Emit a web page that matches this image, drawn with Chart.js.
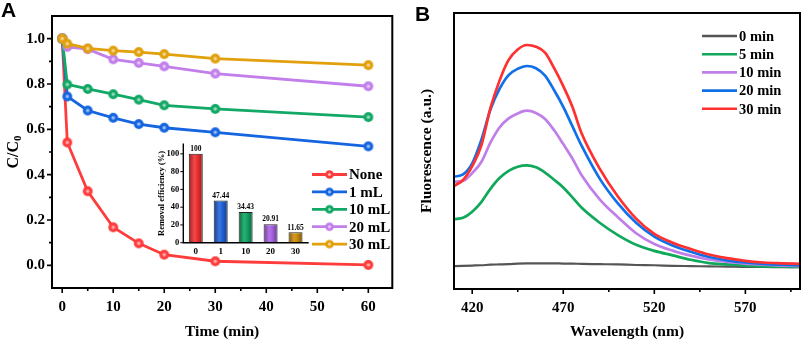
<!DOCTYPE html>
<html><head><meta charset="utf-8">
<script src="https://cdn.jsdelivr.net/npm/chart.js@4.4.1/dist/chart.umd.min.js"></script>
<style>
html,body{margin:0;padding:0;background:#fff;}
#wrap{position:relative;width:803px;height:343px;overflow:hidden;background:#fff;}
canvas{position:absolute;}
#cA{left:0;top:0;width:400px;height:343px;}
#cIn{left:150px;top:135px;width:170px;height:130px;}
#cB{left:400px;top:0;width:403px;height:343px;}
.lbl{position:absolute;font:bold 21px "Liberation Sans",Arial,sans-serif;line-height:21px;}
</style></head><body>
<div id="wrap">
<canvas id="cA" width="400" height="343"></canvas>
<canvas id="cB" width="403" height="343"></canvas>
<canvas id="cIn" width="170" height="130"></canvas>
<div class="lbl" style="left:1px;top:-1px">A</div>
<div class="lbl" style="left:415px;top:3px">B</div>
</div>
<script>
// ---------- Data: panel A ----------
const timeMin = [0, 1, 5, 10, 15, 20, 30, 60];
const seriesNone = [1.0, 0.542, 0.327, 0.168, 0.097, 0.047, 0.018, 0.002];
const series1mL  = [1.0, 0.745, 0.683, 0.651, 0.623, 0.607, 0.587, 0.525];
const series10mL = [1.0, 0.798, 0.778, 0.755, 0.731, 0.706, 0.690, 0.654];
const series20mL = [1.0, 0.964, 0.954, 0.909, 0.893, 0.878, 0.846, 0.790];
const series30mL = [1.0, 0.978, 0.957, 0.947, 0.941, 0.932, 0.912, 0.883];
const legendA = ['None', '1 mL', '10 mL', '20 mL', '30 mL'];
const yTicksA = [0.0, 0.2, 0.4, 0.6, 0.8, 1.0];
const xTicksA = [0, 10, 20, 30, 40, 50, 60];

// ---------- Data: inset ----------
const insetCats = ['0', '1', '10', '20', '30'];
const insetVals = [100, 47.44, 34.43, 20.91, 11.65];
const insetLabels = ['100', '47.44', '34.43', '20.91', '11.65'];
const insetTicks = [0, 20, 40, 60, 80, 100];

// ---------- Data: panel B ----------
const wavelength = [410,415,420,425,430,435,440,445,450,455,460,465,470,475,480,490,500,510,520,530,540,550,560,570,580,590,600];
const fl0min  = [8.3,8.4,8.5,8.6,8.8,8.9,9.0,9.2,9.3,9.3,9.3,9.3,9.2,9.2,9.1,9.0,8.9,8.7,8.6,8.4,8.3,8.2,8.1,8.0,8.0,7.9,7.9];
const fl5min  = [25.3,25.8,28.0,31.5,36.3,40.2,42.8,44.3,44.8,44.1,42.2,39.6,36.8,33.2,29.5,24.0,19.5,16.0,13.8,12.2,10.6,9.4,8.9,8.5,8.2,8.1,8.0];
const fl10min = [38.9,39.2,42.0,46.0,53.0,58.5,61.8,63.6,64.6,63.8,61.6,57.5,52.5,47.3,41.3,32.5,26.0,20.2,16.3,13.9,12.1,10.7,9.8,9.2,8.8,8.5,8.3];
const fl20min = [40.7,41.5,45.5,54.0,65.0,72.5,77.5,79.8,80.8,80.0,77.3,72.0,66.0,59.0,52.0,40.0,31.0,24.0,19.0,15.8,13.5,11.6,10.4,9.6,9.1,8.8,8.6];
const fl30min = [37.3,39.5,44.5,52.0,65.5,75.5,83.0,86.8,88.4,87.8,85.6,80.0,73.5,66.0,56.5,43.6,33.5,25.5,20.0,16.8,14.5,12.5,11.2,10.2,9.6,9.3,9.1];
const legendB = ['0 min', '5 min', '10 min', '20 min', '30 min'];
const xTicksB = [420, 470, 520, 570];

// ---------- styles ----------
const colA = ['#ff3c3c', '#1565e0', '#12a865', '#c27fec', '#e2a00c'];
const colIn = ['#f03030', '#2263d8', '#12a464', '#a862e4', '#cc8c0c'];
const colB = ['#555555', '#10a85a', '#c07ee8', '#1070e8', '#ff3030'];
const SERIF = '"Liberation Serif","Times New Roman",serif';

function pairs(xs, ys) { return xs.map((x, i) => ({x, y: ys[i]})); }

function makeMarker(color, r) {
  const c = document.createElement('canvas');
  const s = Math.ceil(r * 2 + 2);
  c.width = s; c.height = s;
  const g = c.getContext('2d');
  g.beginPath(); g.arc(s/2, s/2, r, 0, Math.PI*2); g.fillStyle = color; g.fill();
  g.beginPath(); g.arc(s/2, s/2, r*0.36, 0, Math.PI*2); g.fillStyle = 'rgba(255,255,255,0.6)'; g.fill();
  return c;
}

function shade(hex, f) {
  const n = parseInt(hex.slice(1), 16);
  let r = n >> 16, g = (n >> 8) & 255, b = n & 255;
  const m = v => Math.max(0, Math.min(255, Math.round(f < 0 ? v * (1 + f) : v + (255 - v) * f)));
  return 'rgb(' + m(r) + ',' + m(g) + ',' + m(b) + ')';
}

// frame + outward ticks plugin
const framePlugin = {
  id: 'frame',
  afterDraw(chart, args, o) {
    if (!o || !o.enabled) return;
    const ctx = chart.ctx, a = chart.chartArea;
    ctx.save();
    ctx.strokeStyle = '#000';
    ctx.lineWidth = o.lw;
    ctx.lineCap = 'square';
    ctx.beginPath();
    if (o.box) {
      ctx.rect(a.left, a.top, a.right - a.left, a.bottom - a.top);
    } else {
      ctx.moveTo(a.left, a.top); ctx.lineTo(a.left, a.bottom); ctx.lineTo(a.right, a.bottom);
    }
    ctx.stroke();
    ctx.lineWidth = o.tickW || 1.5;
    ctx.lineCap = 'butt';
    const xs = chart.scales.x, ys = chart.scales.y;
    ctx.beginPath();
    (o.xMajor || []).forEach(v => { const p = xs.getPixelForValue(v); ctx.moveTo(p, a.bottom); ctx.lineTo(p, a.bottom + o.major); });
    (o.xMinor || []).forEach(v => { const p = xs.getPixelForValue(v); ctx.moveTo(p, a.bottom); ctx.lineTo(p, a.bottom + o.minor); });
    (o.yMajor || []).forEach(v => { const p = ys.getPixelForValue(v); ctx.moveTo(a.left, p); ctx.lineTo(a.left - o.major, p); });
    (o.yMinor || []).forEach(v => { const p = ys.getPixelForValue(v); ctx.moveTo(a.left, p); ctx.lineTo(a.left - o.minor, p); });
    ctx.stroke();
    ctx.restore();
  }
};

// legend plugin drawing at positions relative to the chart area
const legendPlugin = {
  id: 'customLegend',
  afterDraw(chart, args, o) {
    if (!o || !o.items) return;
    const ctx = chart.ctx, a = chart.chartArea;
    ctx.save();
    o.items.forEach((it, i) => {
      const y = a.top + o.y0 + i * o.dy;
      const x1 = a.left + o.x0, x2 = x1 + o.len;
      ctx.strokeStyle = it.color; ctx.lineWidth = o.lw;
      ctx.beginPath(); ctx.moveTo(x1, y); ctx.lineTo(x2, y); ctx.stroke();
      if (it.marker) ctx.drawImage(it.marker, (x1 + x2)/2 - it.marker.width/2, y - it.marker.height/2);
      ctx.fillStyle = '#000'; ctx.font = o.font; ctx.textBaseline = 'middle'; ctx.textAlign = 'left';
      ctx.fillText(it.text, x2 + o.gap, y + 1);
    });
    ctx.restore();
  }
};

// rotated y title with subscript for panel A
const ctitlePlugin = {
  id: 'ctitle',
  afterDraw(chart, args, o) {
    if (!o || !o.enabled) return;
    const ctx = chart.ctx, a = chart.chartArea;
    ctx.save();
    ctx.translate(o.x, (a.top + a.bottom) / 2);
    ctx.rotate(-Math.PI / 2);
    ctx.fillStyle = '#000';
    ctx.textBaseline = 'middle';
    ctx.font = 'bold 16px ' + SERIF;
    const main = 'C/C', sub = '0';
    const w1 = ctx.measureText(main).width;
    ctx.font = 'bold 11px ' + SERIF;
    const w2 = ctx.measureText(sub).width;
    const x0 = -(w1 + w2) / 2;
    ctx.font = 'bold 16px ' + SERIF;
    ctx.textAlign = 'left';
    ctx.fillText(main, x0, 0);
    ctx.font = 'bold 11px ' + SERIF;
    ctx.fillText(sub, x0 + w1, 4);
    ctx.restore();
  }
};

// bar value labels for inset
const barLabelPlugin = {
  id: 'barLabels',
  afterDatasetsDraw(chart, args, o) {
    if (!o || !o.labels) return;
    const ctx = chart.ctx;
    const meta = chart.getDatasetMeta(0);
    ctx.save();
    ctx.fillStyle = '#000'; ctx.font = o.font; ctx.textAlign = 'center'; ctx.textBaseline = 'bottom';
    meta.data.forEach((bar, i) => ctx.fillText(o.labels[i], bar.x, bar.y - 1));
    ctx.restore();
  }
};

Chart.register(framePlugin, legendPlugin, ctitlePlugin, barLabelPlugin);

// ---------- Panel A ----------
const markersA = colA.map(c => makeMarker(c, 4.9));
const markersLegA = colA.map(c => makeMarker(c, 4.3));
const dataA = [seriesNone, series1mL, series10mL, series20mL, series30mL];
new Chart(document.getElementById('cA'), {
  type: 'line',
  data: {
    datasets: dataA.map((d, i) => ({
      label: legendA[i],
      data: pairs(timeMin, d),
      borderColor: colA[i],
      backgroundColor: colA[i],
      borderWidth: 2.8,
      pointStyle: markersA[i],
      pointRadius: 4.9,
      tension: 0,
      order: 5 - i
    }))
  },
  options: {
    responsive: false, animation: false,
    layout: { padding: { left: 0, top: 13, right: 5, bottom: 0 } },
    plugins: {
      legend: { display: false }, tooltip: { enabled: false },
      frame: { enabled: true, box: true, lw: 2, tickW: 1.6, major: 5, minor: 3,
        xMajor: xTicksA, xMinor: [5,15,25,35,45,55],
        yMajor: yTicksA, yMinor: [0.1,0.3,0.5,0.7,0.9] },
      customLegend: { items: legendA.map((t, i) => ({ text: t, color: colA[i], marker: markersLegA[i] })),
        x0: 260, y0: 158.5, dy: 17.4, len: 35, lw: 2.8, gap: 2, font: 'bold 15px ' + SERIF },
      ctitle: { enabled: true, x: 14 }
    },
    scales: {
      x: {
        type: 'linear', min: -2, max: 64.7,
        afterBuildTicks: s => { s.ticks = xTicksA.map(v => ({ value: v })); },
        afterFit: s => { s.height = 55; },
        grid: { display: false, drawTicks: false }, border: { display: false },
        ticks: { padding: 10, color: '#000', font: { family: SERIF, size: 15, weight: 'bold' } },
        title: { display: true, text: 'Time (min)', color: '#000', padding: { top: 0, bottom: 2 },
          font: { family: SERIF, size: 15.5, weight: 'bold' } }
      },
      y: {
        type: 'linear', min: -0.1, max: 1.1,
        afterBuildTicks: s => { s.ticks = yTicksA.map(v => ({ value: v })); },
        afterFit: s => { s.width = 52; },
        grid: { display: false, drawTicks: false }, border: { display: false },
        ticks: { padding: 7, color: '#000', font: { family: SERIF, size: 15, weight: 'bold' },
          callback: v => v.toFixed(1) }
      }
    }
  }
});

// ---------- Inset ----------
const BAR_W = 14;
new Chart(document.getElementById('cIn'), {
  type: 'bar',
  data: {
    labels: insetCats,
    datasets: [{ data: insetVals, borderColor: '#222', borderWidth: 1,
      categoryPercentage: 1, barPercentage: 0.56,
      backgroundColor: (c) => {
        const col = colIn[c.dataIndex % colIn.length];
        const sx = c.chart.scales && c.chart.scales.x;
        if (!sx || c.dataIndex === undefined) return col;
        const cx = sx.getPixelForValue(c.dataIndex);
        if (!isFinite(cx)) return col;
        const g = c.chart.ctx.createLinearGradient(cx - BAR_W/2, 0, cx + BAR_W/2, 0);
        g.addColorStop(0, shade(col, -0.35));
        g.addColorStop(0.4, shade(col, 0.12));
        g.addColorStop(0.6, col);
        g.addColorStop(1, shade(col, -0.4));
        return g;
      } }]
  },
  options: {
    responsive: false, animation: false,
    layout: { padding: { left: 0, top: 6.7, right: 12, bottom: 0 } },
    plugins: {
      legend: { display: false }, tooltip: { enabled: false },
      frame: { enabled: true, box: false, lw: 1.4, tickW: 1, major: 3, minor: 0,
        yMajor: insetTicks },
      barLabels: { labels: insetLabels, font: 'bold 7.5px ' + SERIF }
    },
    scales: {
      x: {
        afterFit: s => { s.height = 22.3; },
        grid: { display: false, drawTicks: false }, border: { display: false },
        ticks: { padding: 4, color: '#000', font: { family: SERIF, size: 9, weight: 'bold' } }
      },
      y: {
        min: 0, max: 111,
        afterBuildTicks: s => { s.ticks = insetTicks.map(v => ({ value: v })); },
        afterFit: s => { s.width = 33.3; },
        grid: { display: false, drawTicks: false }, border: { display: false },
        ticks: { padding: 4, color: '#000', font: { family: SERIF, size: 8.5, weight: 'bold' } },
        title: { display: true, text: 'Removal efficiency (%)', color: '#000', padding: { top: 7, bottom: 0 },
          font: { family: SERIF, size: 8.5, weight: 'bold' } }
      }
    }
  }
});

// ---------- Panel B ----------
const dataB = [fl0min, fl5min, fl10min, fl20min, fl30min];
new Chart(document.getElementById('cB'), {
  type: 'line',
  data: {
    datasets: dataB.map((d, i) => ({
      label: legendB[i],
      data: pairs(wavelength, d),
      borderColor: colB[i],
      borderWidth: i === 0 ? 2.2 : 2.7,
      pointRadius: 0,
      cubicInterpolationMode: 'monotone',
      order: 5 - i
    }))
  },
  options: {
    responsive: false, animation: false,
    layout: { padding: { left: 0, top: 13, right: 3, bottom: 0 } },
    plugins: {
      legend: { display: false }, tooltip: { enabled: false },
      frame: { enabled: true, box: true, lw: 2, tickW: 1.6, major: 5, minor: 3,
        xMajor: xTicksB, xMinor: [445, 495, 545, 595] },
      customLegend: { items: legendB.map((t, i) => ({ text: t, color: colB[i] })),
        x0: 248, y0: 23, dy: 18.2, len: 35, lw: 2.6, gap: 2, font: 'bold 14.5px ' + SERIF }
    },
    scales: {
      x: {
        type: 'linear', min: 410, max: 600,
        afterBuildTicks: s => { s.ticks = xTicksB.map(v => ({ value: v })); },
        afterFit: s => { s.height = 54; },
        grid: { display: false, drawTicks: false }, border: { display: false },
        ticks: { padding: 10, color: '#000', font: { family: SERIF, size: 15, weight: 'bold' } },
        title: { display: true, text: 'Wavelength (nm)', color: '#000', padding: { top: 0, bottom: 2 },
          font: { family: SERIF, size: 15.5, weight: 'bold' } }
      },
      y: {
        type: 'linear', min: 0, max: 100,
        afterFit: s => { s.width = 54; },
        grid: { display: false, drawTicks: false }, border: { display: false },
        ticks: { display: false },
        title: { display: true, text: 'Fluorescence (a.u.)', color: '#000', padding: { top: 18, bottom: 0 },
          font: { family: SERIF, size: 15.5, weight: 'bold' } }
      }
    }
  }
});
</script>
</body></html>
